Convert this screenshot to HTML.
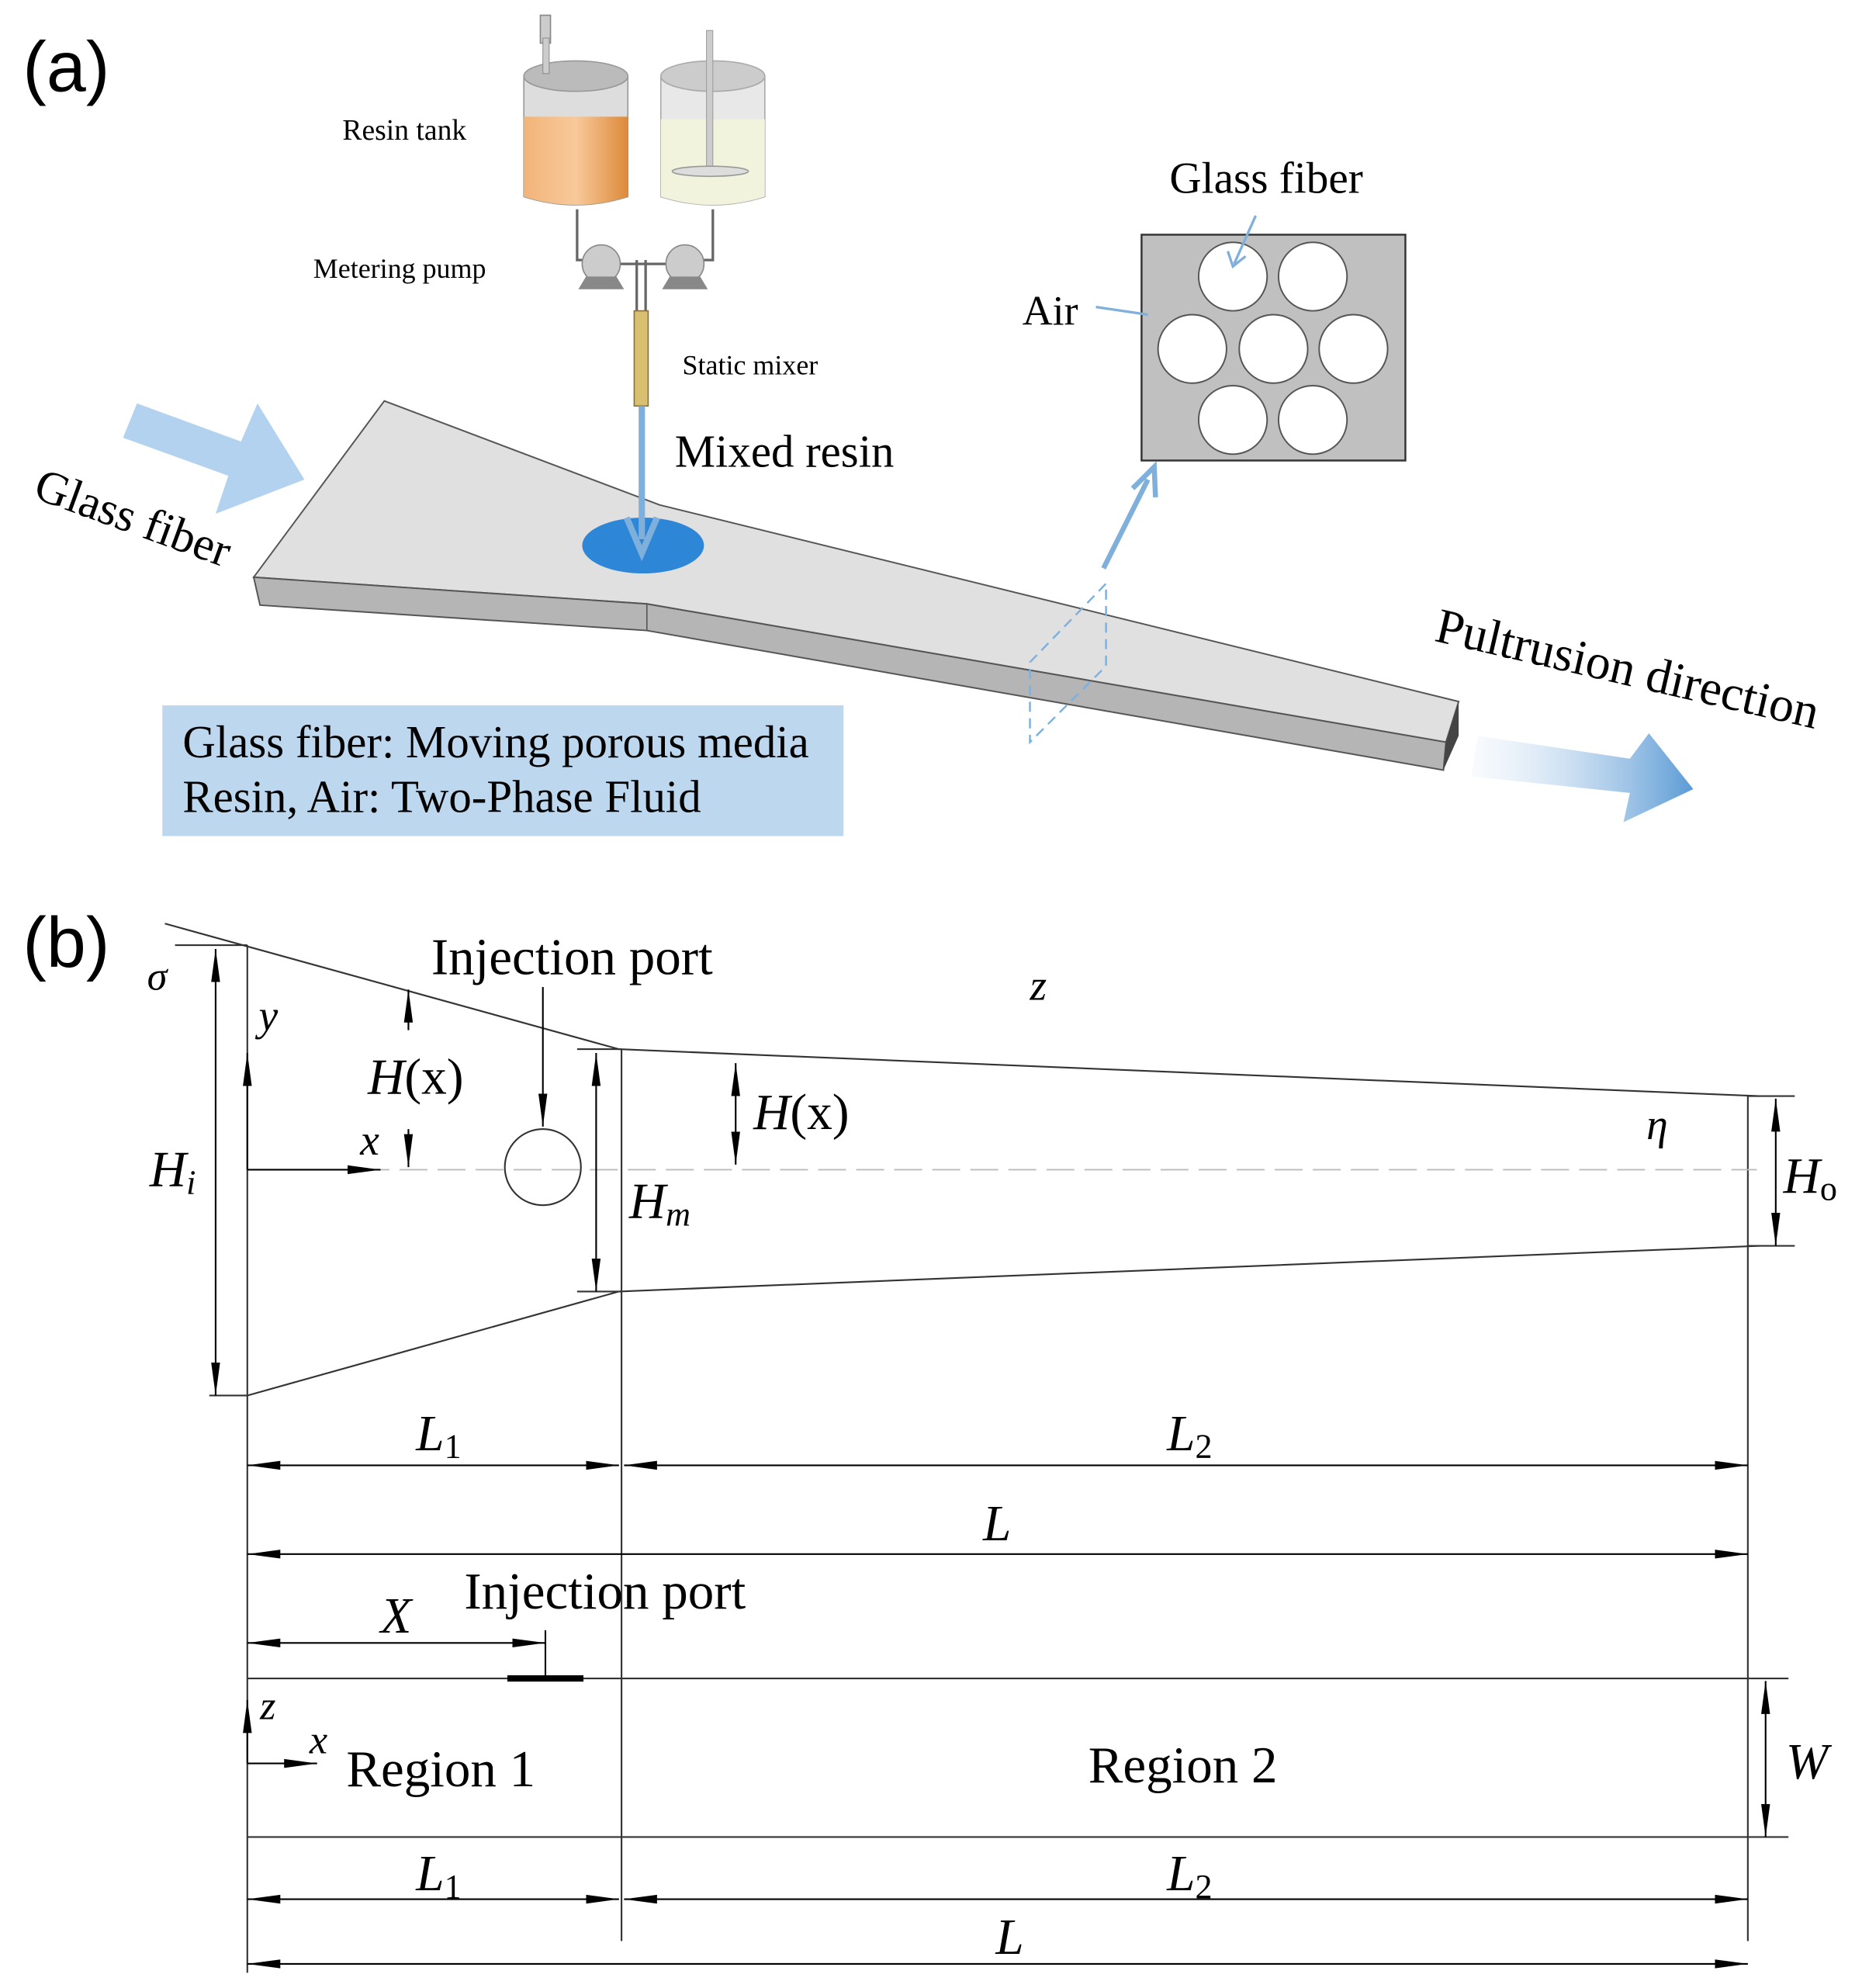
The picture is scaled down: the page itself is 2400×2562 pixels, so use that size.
<!DOCTYPE html>
<html><head><meta charset="utf-8"><style>
html,body{margin:0;padding:0;background:#fff;}
svg{display:block;}
text{font-family:"Liberation Serif",serif;}
</style></head><body>
<svg width="2400" height="2562" viewBox="0 0 1468 1567" preserveAspectRatio="none" xmlns="http://www.w3.org/2000/svg">
<defs>
<marker id="ahb" markerWidth="26" markerHeight="10" refX="26" refY="5" orient="auto" markerUnits="userSpaceOnUse"><path d="M0,1.5 L26,5 L0,8.5 Z" fill="#000"/></marker>
<marker id="ahs" markerWidth="26" markerHeight="10" refX="0" refY="5" orient="auto" markerUnits="userSpaceOnUse"><path d="M26,1.5 L0,5 L26,8.5 Z" fill="#000"/></marker>
<linearGradient id="og" x1="0" x2="1"><stop offset="0" stop-color="#f2b47a"/><stop offset="0.5" stop-color="#f8c99a"/><stop offset="1" stop-color="#dd8a3a"/></linearGradient>
<linearGradient id="rg" x1="0" x2="1"><stop offset="0" stop-color="#eaf1fa" stop-opacity="0.3"/><stop offset="1" stop-color="#5b9bd5"/></linearGradient>
</defs>
<!-- (a) -->
<text x="18" y="72" font-size="56" style="font-family:'Liberation Sans',sans-serif">(a)</text>
<!-- tanks -->
<rect x="426" y="12" width="8" height="22" fill="#ccc" stroke="#888"/>
<path d="M413,60 L413,155 Q454,168 495,155 L495,60 Z" fill="#ddd" stroke="#999"/>
<path d="M413,92 L413,155 Q454,168 495,155 L495,92 Z" fill="url(#og)"/>
<ellipse cx="454" cy="60" rx="41" ry="12" fill="#bbb" stroke="#999"/>
<rect x="428" y="30" width="5" height="28" fill="#ccc" stroke="#888" stroke-width="0.6"/>
<path d="M521,60 L521,155 Q562,168 603,155 L603,60 Z" fill="#e8e8e8" stroke="#aaa"/>
<path d="M521,94 L521,155 Q562,168 603,155 L603,94 Z" fill="#f2f3dc"/>
<ellipse cx="562" cy="60" rx="41" ry="12" fill="#ccc" stroke="#aaa"/>
<rect x="557" y="24" width="5" height="110" fill="#ccc" stroke="#999" stroke-width="0.6"/>
<ellipse cx="560" cy="135" rx="30" ry="4" fill="#ddd" stroke="#999"/>
<text x="270" y="110" font-size="23">Resin tank</text>
<path d="M455,165 V205 H462 M562,165 V205 H555" fill="none" stroke="#666" stroke-width="2"/>
<path d="M502,205 V245 M509,205 V245" stroke="#666" stroke-width="2"/>
<path d="M484,208 H528" stroke="#666" stroke-width="2"/>
<circle cx="474" cy="208" r="15" fill="#ccc" stroke="#888"/>
<circle cx="540" cy="208" r="15" fill="#ccc" stroke="#888"/>
<path d="M456,228 L462,218 H486 L492,228 Z M522,228 L528,218 H552 L558,228 Z" fill="#888"/>
<text x="247" y="219" font-size="22">Metering  pump</text>
<rect x="500" y="245" width="11" height="75" fill="#d8c070" stroke="#8a7040"/>
<text x="538" y="295" font-size="22">Static mixer</text>
<!-- bar -->
<path d="M200,455 L303,316 L520,398 L1150,553 L1140,585 L510,476 Z" fill="#e0e0e0" stroke="#555" stroke-width="1.2"/>
<path d="M200,455 L510,476 L1140,585 L1138,607 L510,497 L205,477 Z" fill="#b5b5b5" stroke="#555" stroke-width="1.2"/>
<path d="M510,476 L510,497" stroke="#555"/>
<path d="M1140,585 L1150,553 L1150,580 L1138,607 Z" fill="#444"/>
<ellipse cx="507" cy="430" rx="48" ry="22" fill="#2e86d6"/>
<path d="M506,320 V425" stroke="#7fb0dc" stroke-width="5"/>
<path d="M494,408 L506,436 L518,408" fill="none" stroke="#7fb0dc" stroke-width="5"/>
<text x="532" y="368" font-size="36">Mixed resin</text>
<!-- dashed parallelogram -->
<path d="M812,522 L872,460 L872,525 L812,585 Z" fill="none" stroke="#7fb0dc" stroke-width="1.5" stroke-dasharray="8,5"/>
<path d="M870,448 L905,378" stroke="#7fb0dc" stroke-width="4"/>
<path d="M893,385 L910,368 L911,392" fill="none" stroke="#7fb0dc" stroke-width="4"/>
<!-- cross-section -->
<rect x="900" y="185" width="208" height="178" fill="#c0c0c0" stroke="#333" stroke-width="1.5"/>
<g fill="#fff" stroke="#555" stroke-width="1.2">
<circle cx="972" cy="218" r="27"/><circle cx="1035" cy="218" r="27"/>
<circle cx="940" cy="275" r="27"/><circle cx="1004" cy="275" r="27"/><circle cx="1067" cy="275" r="27"/>
<circle cx="972" cy="331" r="27"/><circle cx="1035" cy="331" r="27"/>
</g>
<text x="922" y="152" font-size="35">Glass fiber</text>
<path d="M990,170 L973,208" stroke="#7fb0dc" stroke-width="2"/><path d="M968,198 L972,210 L982,202" fill="none" stroke="#7fb0dc" stroke-width="2"/>
<text x="806" y="256" font-size="33">Air</text>
<path d="M864,242 L905,248" stroke="#7fb0dc" stroke-width="2"/>
<!-- big arrows -->
<path d="M97,345 L108,318 L190,348 L203,318 L240,378 L170,405 L180,375 Z" fill="#b3d2ef"/>
<text x="25" y="392" font-size="37" transform="rotate(20 25 392)">Glass fiber</text>
<text x="1130" y="505" font-size="39" transform="rotate(13 1130 505)">Pultrusion direction</text>
<path d="M1165,580 L1285,598 L1300,578 L1335,622 L1280,648 L1285,625 L1160,612 Z" fill="url(#rg)"/>
<rect x="128" y="556" width="537" height="103" fill="#bdd7ee"/>
<text x="144" y="597" font-size="36">Glass fiber: Moving porous media</text>
<text x="144" y="640" font-size="36">Resin, Air: Two-Phase Fluid</text>
<!-- (b) -->
<text x="18" y="762" font-size="56" style="font-family:'Liberation Sans',sans-serif">(b)</text>
<g stroke="#333" stroke-width="1.3" fill="none">
<path d="M130,728 L488,827 L1387,864"/>
<path d="M195,1100 L488,1018 L1387,982"/>
<path d="M195,745 V1555"/>
<path d="M490,827 V1530"/>
<path d="M1378,864 V1530"/>
<path d="M138,745 H195 M165,1100 H195 M455,827 H490 M455,1018 H490 M1378,864 H1415 M1378,982 H1415"/>
<path d="M195,1323 H1410 M195,1448 H1410"/>
</g>
<path d="M195,922 H1385" stroke="#bbb" stroke-width="1.2" stroke-dasharray="22,8"/>
<g stroke="#000" stroke-width="1.3" fill="none">
<path d="M170,748 V1100" marker-start="url(#ahs)" marker-end="url(#ahb)"/>
<path d="M195,922 V830" marker-end="url(#ahb)"/>
<path d="M195,922 H300" marker-end="url(#ahb)"/>
<path d="M322,812 V780" marker-end="url(#ahb)"/>
<path d="M322,890 V920" marker-end="url(#ahb)"/>
<path d="M428,778 V888" marker-end="url(#ahb)"/>
<path d="M470,830 V1018" marker-start="url(#ahs)" marker-end="url(#ahb)"/>
<path d="M580,838 V918" marker-start="url(#ahs)" marker-end="url(#ahb)"/>
<path d="M1400,866 V982" marker-start="url(#ahs)" marker-end="url(#ahb)"/>
<path d="M195,1155 H488" marker-start="url(#ahs)" marker-end="url(#ahb)"/>
<path d="M492,1155 H1378" marker-start="url(#ahs)" marker-end="url(#ahb)"/>
<path d="M195,1225 H1378" marker-start="url(#ahs)" marker-end="url(#ahb)"/>
<path d="M195,1295 H430" marker-start="url(#ahs)" marker-end="url(#ahb)"/>
<path d="M430,1285 V1323"/>
<path d="M1392,1325 V1448" marker-start="url(#ahs)" marker-end="url(#ahb)"/>
<path d="M195,1390 V1340" marker-end="url(#ahb)"/>
<path d="M195,1390 H250" marker-end="url(#ahb)"/>
<path d="M195,1497 H488" marker-start="url(#ahs)" marker-end="url(#ahb)"/>
<path d="M492,1497 H1378" marker-start="url(#ahs)" marker-end="url(#ahb)"/>
<path d="M195,1548 H1378" marker-start="url(#ahs)" marker-end="url(#ahb)"/>
</g>
<circle cx="428" cy="920" r="30" fill="none" stroke="#333" stroke-width="1.3"/>
<path d="M400,1323 H460" stroke="#000" stroke-width="5"/>
<g font-size="40">
<text x="116" y="780" font-style="italic" font-size="32">σ</text>
<text x="118" y="935" font-style="italic">H<tspan font-size="27" dy="6">i</tspan></text>
<text x="204" y="812" font-style="italic" font-size="34">y</text>
<text x="284" y="910" font-style="italic" font-size="34">x</text>
<text x="290" y="862"><tspan font-style="italic">H</tspan>(x)</text>
<text x="340" y="768" font-size="41">Injection port</text>
<text x="496" y="960" font-style="italic">H<tspan font-size="27" dy="6">m</tspan></text>
<text x="594" y="890"><tspan font-style="italic">H</tspan>(x)</text>
<text x="812" y="788" font-style="italic" font-size="34">z</text>
<text x="1298" y="898" font-style="italic" font-size="34">η</text>
<text x="1406" y="940" font-style="italic">H<tspan font-size="27" dy="6" font-style="normal">o</tspan></text>
<text x="328" y="1143" font-style="italic">L<tspan font-size="27" dy="6" font-style="normal">1</tspan></text>
<text x="920" y="1143" font-style="italic">L<tspan font-size="27" dy="6" font-style="normal">2</tspan></text>
<text x="775" y="1214" font-style="italic">L</text>
<text x="300" y="1287" font-style="italic">X</text>
<text x="366" y="1268" font-size="41">Injection port</text>
<text x="205" y="1355" font-style="italic" font-size="32">z</text>
<text x="244" y="1382" font-style="italic" font-size="32">x</text>
<text x="273" y="1408" font-size="41">Region 1</text>
<text x="858" y="1405" font-size="41">Region 2</text>
<text x="1408" y="1402" font-style="italic">W</text>
<text x="328" y="1490" font-style="italic">L<tspan font-size="27" dy="6" font-style="normal">1</tspan></text>
<text x="920" y="1490" font-style="italic">L<tspan font-size="27" dy="6" font-style="normal">2</tspan></text>
<text x="785" y="1540" font-style="italic">L</text>
</g>
</svg>
</body></html>
